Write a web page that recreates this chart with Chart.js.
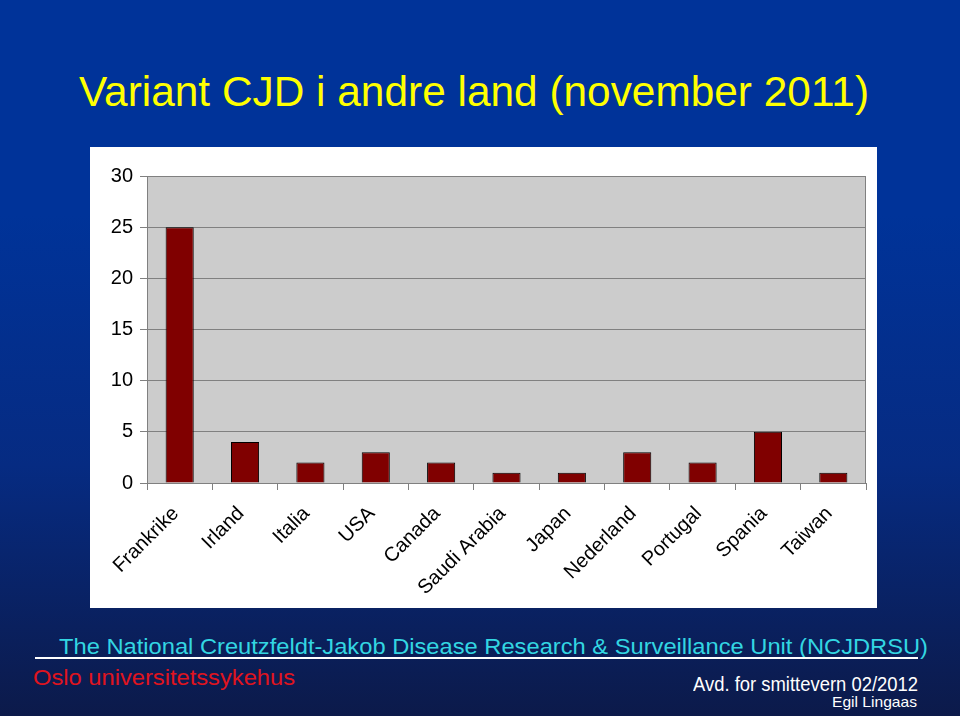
<!DOCTYPE html>
<html>
<head>
<meta charset="utf-8">
<script src="https://cdn.jsdelivr.net/npm/chart.js@4.4.1/dist/chart.umd.min.js"></script>
<style>
html,body{margin:0;padding:0;}
body{width:960px;height:716px;position:relative;overflow:hidden;
  background:linear-gradient(180deg,#003399 0%,#003399 30%,#062b82 65%,#0c1a4a 100%);
  font-family:"Liberation Sans",Arial,Helvetica,sans-serif;}
.t{position:absolute;white-space:pre;line-height:1;transform-origin:0 0;}
#title{left:79px;top:70px;font-size:43px;color:#ffff00;}
#box{position:absolute;left:90px;top:147px;width:787px;height:461px;background:#ffffff;}
#box canvas{display:block;}
#src{left:59px;top:636px;font-size:22px;color:#33d6e2;}
#uline{position:absolute;left:35px;top:657px;width:883px;height:2px;background:#ffffff;}
#oslo{left:33px;top:667px;font-size:22px;color:#e0141e;}
#avd{left:693px;top:675px;font-size:19.5px;color:#ffffff;}
#egil{left:832px;top:694px;font-size:15px;color:#ffffff;}
</style>
</head>
<body>
<div id="title" class="t" data-w="790">Variant CJD i andre land (november 2011)</div>
<div id="box"><canvas id="c" width="787" height="461"></canvas></div>
<div id="src" class="t" data-w="869">The National Creutzfeldt-Jakob Disease Research &amp; Surveillance Unit (NCJDRSU)</div>
<div id="uline"></div>
<div id="oslo" class="t" data-w="262">Oslo universitetssykehus</div>
<div id="avd" class="t" data-w="225">Avd. for smittevern 02/2012</div>
<div id="egil" class="t" data-w="85">Egil Lingaas</div>
<script>
// ---- data ----
const categories = ["Frankrike","Irland","Italia","USA","Canada","Saudi Arabia","Japan","Nederland","Portugal","Spania","Taiwan"];
const cases = [25, 4, 2, 3, 2, 1, 1, 3, 2, 5, 1];
const yMin = 0;
const yMax = 30;
const yStep = 5;

// fit text widths
document.querySelectorAll('.t[data-w]').forEach(el => {
  const target = parseFloat(el.dataset.w);
  const w = el.getBoundingClientRect().width;
  if (w > 0) el.style.transform = 'scaleX(' + (target / w) + ')';
});

const FONT = '"Liberation Sans", Arial, sans-serif';

const plotBg = {
  id: 'plotBg',
  beforeDraw(chart) {
    const {ctx, chartArea: a} = chart;
    ctx.save();
    ctx.fillStyle = '#cccccc';
    ctx.fillRect(a.left, a.top, a.right - a.left, a.bottom - a.top);
    ctx.restore();
  },
  afterDraw(chart) {
    const {ctx, chartArea: a} = chart;
    ctx.save();
    ctx.strokeStyle = '#808080';
    ctx.lineWidth = 1;
    ctx.beginPath();
    ctx.moveTo(Math.round(a.left) + 0.5, Math.round(a.top) + 0.5);
    ctx.lineTo(Math.round(a.right) - 0.5, Math.round(a.top) + 0.5);
    ctx.lineTo(Math.round(a.right) - 0.5, Math.round(a.bottom) + 0.5);
    ctx.stroke();
    ctx.restore();
  }
};

new Chart(document.getElementById('c'), {
  type: 'bar',
  data: {
    labels: categories,
    datasets: [{
      data: cases,
      backgroundColor: '#800000',
      borderColor: '#000000',
      borderWidth: 1,
      borderSkipped: 'bottom',
      barPercentage: 0.43,
      categoryPercentage: 1.0
    }]
  },
  options: {
    responsive: false,
    animation: false,
    events: [],
    layout: { padding: { top: 29, right: 11, left: 0, bottom: 0 } },
    plugins: { legend: { display: false }, tooltip: { enabled: false } },
    scales: {
      x: {
        grid: { offset: true, drawOnChartArea: false, drawTicks: true, tickLength: 7, color: '#808080', lineWidth: 1 },
        border: { display: true, color: '#808080', width: 1 },
        ticks: { maxRotation: 45, minRotation: 45, color: '#000000', padding: 12, labelOffset: -4,
                 font: { family: FONT, size: 20 } },
        afterFit(s) { s.height = 125; }
      },
      y: {
        min: yMin, max: yMax,
        grid: { color: '#808080', lineWidth: 1, tickLength: 7, drawTicks: true },
        border: { display: true, color: '#808080', width: 1 },
        ticks: { stepSize: yStep, color: '#000000', padding: 7,
                 font: { family: FONT, size: 20 } },
        afterFit(s) { s.width = 57; }
      }
    }
  },
  plugins: [plotBg]
});
</script>
</body>
</html>
